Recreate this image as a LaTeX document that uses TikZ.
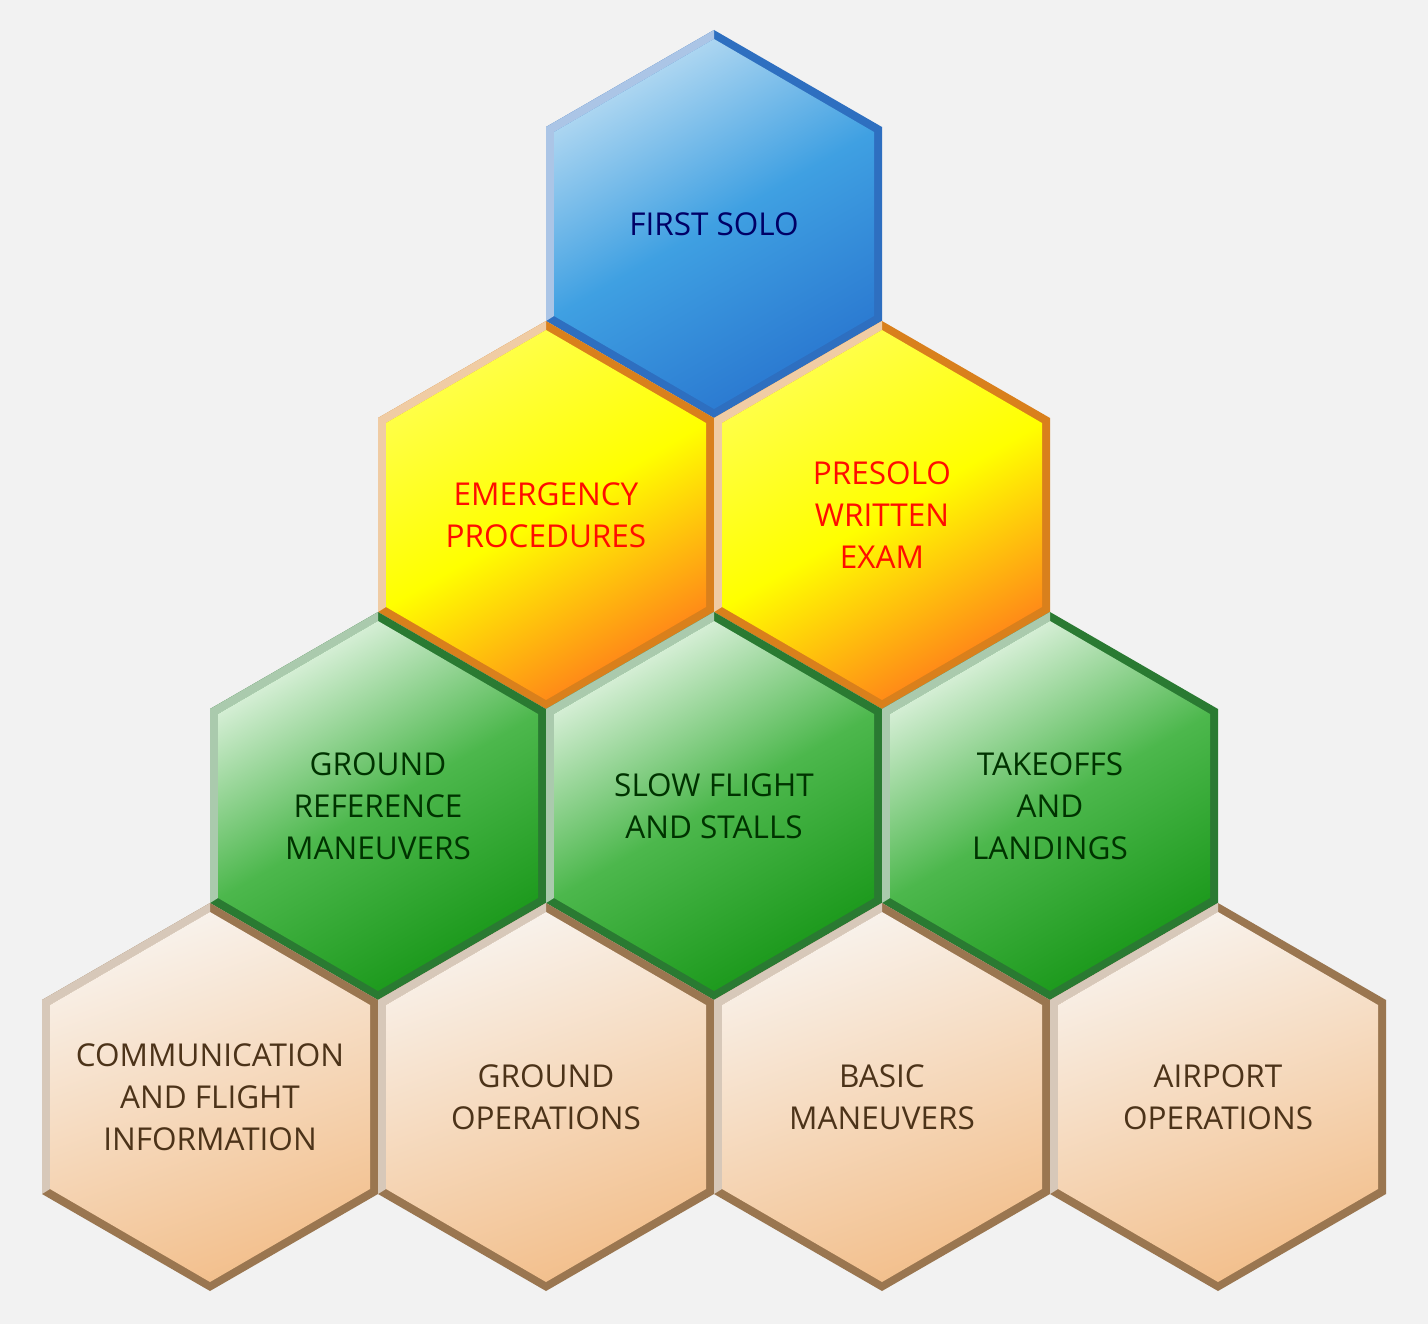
\documentclass[tikz,border=0pt]{standalone}
\usepackage{fontspec}
\setmainfont{Open Sans}
\definecolor{bedge}{HTML}{2E6FC0}
\definecolor{yedge}{HTML}{D9801C}
\definecolor{gedge}{HTML}{2A7A32}
\definecolor{tedge}{HTML}{9A7650}
\definecolor{btop}{HTML}{B5DAF2}
\definecolor{bmid}{HTML}{3FA0E2}
\definecolor{bbot}{HTML}{2A78D0}
\begin{document}
\begin{tikzpicture}[x=1pt,y=-1pt,
  lbl/.style={align=center,font=\fontsize{31.5}{42}\selectfont},
  blue/.style={top color=btop,bottom color=bbot,middle color=bmid,shading angle=30},
  yel/.style={top color=yellow!70!white,bottom color=orange!90!red!90,middle color=yellow,shading angle=30},
  grn/.style={top color=green!60!black!20!white!60,bottom color=green!55!black!90,middle color=green!60!black!70!white,shading angle=30},
  tan/.style={top color=brown!10!white,bottom color=orange!60!brown!50!white,shading angle=20}]
\newcommand\hexa[7]{%x y fillstyle edgecolor name textcolor text
 \begin{scope}[shift={(#1,#2)}]
  \fill[#4] (0,-194)--(168,-97)--(168,97)--(0,194)--(-168,97)--(-168,-97)--cycle;
  \fill[#4!40!white] (0,-194)--(-168,-97)--(-168,97)--(-160,92)--(-160,-92)--(0,-185)--cycle;
  \shade[#3] (0,-185)--(160,-92)--(160,92)--(0,185)--(-160,92)--(-160,-92)--cycle;
  \node[lbl,text=#6] (#5) at (0,0) {#7};
 \end{scope}}
\fill[gray!10] (0,0) rectangle (1428,1324);
\useasboundingbox (0,0) rectangle (1428,1324);
\hexa{714}{224}{blue}{bedge}{solo}{blue!40!black}{FIRST SOLO}
\hexa{546}{515}{yel}{yedge}{emerg}{red!90!orange}{EMERGENCY\\PROCEDURES}
\hexa{882}{515}{yel}{yedge}{presolo}{red!90!orange}{PRESOLO\\WRITTEN\\EXAM}
\hexa{378}{806}{grn}{gedge}{grm}{green!20!black}{GROUND\\REFERENCE\\MANEUVERS}
\hexa{714}{806}{grn}{gedge}{slow}{green!20!black}{SLOW FLIGHT\\AND STALLS}
\hexa{1050}{806}{grn}{gedge}{tol}{green!20!black}{TAKEOFFS\\AND\\LANDINGS}
\hexa{210}{1097}{tan}{tedge}{comm}{brown!40!black}{COMMUNICATION\\AND FLIGHT\\INFORMATION}
\hexa{546}{1097}{tan}{tedge}{gops}{brown!40!black}{GROUND\\OPERATIONS}
\hexa{882}{1097}{tan}{tedge}{basic}{brown!40!black}{BASIC\\MANEUVERS}
\hexa{1218}{1097}{tan}{tedge}{apt}{brown!40!black}{AIRPORT\\OPERATIONS}
\end{tikzpicture}
\end{document}
